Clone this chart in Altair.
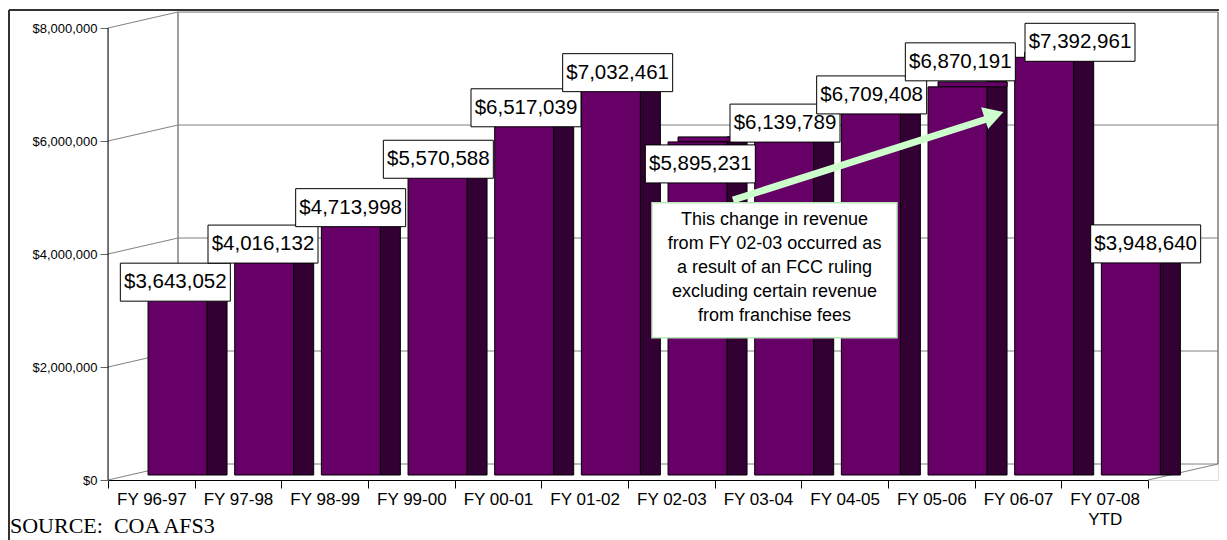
import altair as alt
import pandas as pd

# ---------------- data ----------------
categories = ["FY 96-97", "FY 97-98", "FY 98-99", "FY 99-00", "FY 00-01", "FY 01-02",
              "FY 02-03", "FY 03-04", "FY 04-05", "FY 05-06", "FY 06-07", "FY 07-08 YTD"]
revenue = [3643052, 4016132, 4713998, 5570588, 6517039, 7032461,
           5895231, 6139789, 6709408, 6870191, 7392961, 3948640]
y_ticks = [0, 2000000, 4000000, 6000000, 8000000]
note_lines = ["This change in revenue", "from FY 02-03 occurred as",
              "a result of an FCC ruling", "excluding certain revenue",
              "from franchise fees"]
source_text = "SOURCE:\u00a0\u00a0COA AFS3"

# ---------------- layout / style ----------------
FRONT_W = 1040          # front edge of the floor
DX, DY = 70, 16         # 3-D depth offset
VIEW_W, VIEW_H = FRONT_W + DX, 468
PX_PER_UNIT = 452 / 8_000_000
Y_MAX = VIEW_H / PX_PER_UNIT

GREEN = "#CCFFCC"
PURPLE = "#660066"
DARK = "#330033"
WALL = "#808080"
SANS = "Liberation Sans"

# hand-placed data-label boxes: (dx, dy) pixel nudges from the bar's value point
label_nudge = {
    "FY 96-97": (24, 8), "FY 97-98": (25, -9), "FY 98-99": (26, -6),
    "FY 99-00": (27, -6), "FY 00-01": (28, -4), "FY 01-02": (33, -10),
    "FY 02-03": (29, 17), "FY 03-04": (27, -10), "FY 04-05": (27, -6),
    "FY 05-06": (29, -30), "FY 06-07": (62, -20), "FY 07-08 YTD": (41, -13),
}

df = pd.DataFrame({"cat": categories, "rev": revenue})
df["label"] = ["${:,.0f}".format(v) for v in revenue]
df["label_pos"] = [v - label_nudge[c][1] / PX_PER_UNIT for c, v in zip(categories, revenue)]
ticks_df = pd.DataFrame({"v": y_ticks})
one = pd.DataFrame({"k": [0]})

xs = alt.Scale(domain=categories, range=[0, FRONT_W], paddingInner=0, paddingOuter=0)
ys = alt.Scale(domain=[0, Y_MAX], nice=False, zero=True)

x_axis = alt.Axis(labelFont=SANS, labelFontSize=17, labelColor="#000", labelAngle=0,
                  tickBand="extent", tickSize=8, tickColor="#000", domainColor="#000",
                  labelPadding=3, labelLineHeight=20,
                  labelExpr="datum.label == 'FY 07-08 YTD' ? ['FY 07-08', 'YTD'] : datum.label")
y_axis = alt.Axis(values=y_ticks, format="$,.0f", labelFont=SANS, labelFontSize=13,
                  labelColor="#000", tickSize=8, tickColor="#666", domain=False,
                  grid=False, labelPadding=3)

# ---------------- walls, floor and gridlines ----------------
# white corners outside the 3-D box (above the side wall, right of the floor)
tri_path = "M-1,-{0} L1,-{0} L-1,{0} Z".format(DY / DX)
corner_tl = alt.Chart(one).mark_point(shape=tri_path, size=DX * DX, filled=True,
                                      color="white", opacity=1).encode(
    x=alt.value(DX / 2), y=alt.value(DY / 2))
tri_path2 = "M-1,{0} L1,{0} L1,-{0} Z".format(DY / DX)
corner_br = alt.Chart(one).mark_point(shape=tri_path2, size=DX * DX, filled=True,
                                      color="white", opacity=1).encode(
    x=alt.value(FRONT_W + DX / 2), y=alt.value(VIEW_H - DY / 2))

back_grid = alt.Chart(ticks_df).mark_rule(color=WALL, strokeWidth=1, yOffset=-DY).encode(
    x=alt.value(DX), x2=alt.value(VIEW_W),
    y=alt.Y("v:Q", scale=ys, title=None))
side_grid = alt.Chart(ticks_df).mark_rule(color=WALL, strokeWidth=1, y2Offset=-DY).encode(
    x=alt.value(0), x2=alt.value(DX),
    y=alt.Y("v:Q", scale=ys, title=None), y2="v:Q")
wall_left = alt.Chart(one).mark_rule(color=WALL, strokeWidth=1.5, yOffset=-DY, y2Offset=-DY).encode(
    x=alt.value(DX), y=alt.datum(8000000, scale=ys), y2=alt.datum(0))
wall_right = alt.Chart(one).mark_rule(color=WALL, strokeWidth=1.5, yOffset=-DY, y2Offset=-DY).encode(
    x=alt.value(VIEW_W), y=alt.datum(8000000, scale=ys), y2=alt.datum(0))
floor_right = alt.Chart(one).mark_rule(color=WALL, strokeWidth=1, y2Offset=-DY).encode(
    x=alt.value(FRONT_W), x2=alt.value(VIEW_W), y=alt.datum(0, scale=ys), y2=alt.datum(0))

# ---------------- 3-D bars ----------------
base = alt.Chart(df)
side = base.mark_bar(width=20, xOffset=65.7, color=DARK, stroke="#000", strokeWidth=1,
                     yOffset=-10, y2Offset=-5).encode(
    x=alt.X("cat:N", scale=xs, title=None, axis=x_axis),
    y=alt.Y("rev:Q", scale=ys, title=None, axis=y_axis),
    y2=alt.datum(0))
top = base.mark_bar(width=69, xOffset=41.2, color=PURPLE, stroke="#000", strokeWidth=1,
                    yOffset=-10, y2Offset=-5).encode(
    x=alt.X("cat:N", scale=xs, title=None),
    y=alt.Y("rev:Q", scale=ys, title=None), y2="rev:Q")
front = base.mark_bar(width=59, xOffset=26.2, color=PURPLE, stroke="#000", strokeWidth=1,
                      yOffset=-5, y2Offset=-5).encode(
    x=alt.X("cat:N", scale=xs, title=None),
    y=alt.Y("rev:Q", scale=ys, title=None), y2=alt.datum(0))

labels = []
for c in categories:
    dx = label_nudge[c][0]
    b = base.transform_filter(alt.FieldEqualPredicate(field="cat", equal=c))
    labels.append(b.mark_bar(width=110, xOffset=dx, fill="white", stroke="#000",
                             strokeWidth=1, yOffset=-19, y2Offset=19).encode(
        x=alt.X("cat:N", scale=xs, title=None),
        y=alt.Y("label_pos:Q", scale=ys, title=None), y2="label_pos:Q"))
    labels.append(b.mark_text(xOffset=dx, yOffset=0, font=SANS, fontSize=20.5, color="#000",
                              baseline="middle", align="center").encode(
        x=alt.X("cat:N", scale=xs, title=None),
        y=alt.Y("label_pos:Q", scale=ys, title=None), text="label:N"))

# ---------------- annotation ----------------
arrow = alt.Chart(one).mark_rule(color=GREEN, strokeWidth=7, xOffset=-25, x2Offset=-28).encode(
    x=alt.datum("FY 03-04", scale=xs), x2=alt.datum("FY 06-07"),
    y=alt.datum(4956000, scale=ys), y2=alt.datum(6407000))
arrow_head = alt.Chart(one).mark_point(shape="triangle-right", filled=True, color=GREEN,
                                       opacity=1, size=520, angle=342, xOffset=-24).encode(
    x=alt.datum("FY 06-07", scale=xs), y=alt.datum(6460000, scale=ys))
note_box = alt.Chart(one).mark_bar(width=245, xOffset=16.5, fill="white", stroke="#b8e8b8",
                                   strokeWidth=1.5, yOffset=-67, y2Offset=68).encode(
    x=alt.datum("FY 03-04", scale=xs),
    y=alt.datum(3720000, scale=ys), y2=alt.datum(3720000))
note_text = alt.Chart(one).mark_text(text=note_lines, xOffset=16.5, yOffset=-50, font=SANS,
                                     fontSize=18, lineHeight=24, color="#000",
                                     align="center", baseline="middle").encode(
    x=alt.datum("FY 03-04", scale=xs), y=alt.datum(3720000, scale=ys))

# ---------------- frame, axis line, source ----------------
y_line = alt.Chart(one).mark_rule(color="#000", strokeWidth=1).encode(
    x=alt.value(0), y=alt.datum(0, scale=ys), y2=alt.datum(8000000))
frame_left = alt.Chart(one).mark_rule(color="#333", strokeWidth=2).encode(
    x=alt.value(-99), y=alt.value(-2), y2=alt.value(540))
frame_top = alt.Chart(one).mark_rule(color="#333", strokeWidth=2).encode(
    x=alt.value(-99), x2=alt.value(VIEW_W + 20), y=alt.value(-2))
source = alt.Chart(one).mark_text(text=source_text, align="left", baseline="alphabetic",
                                  font="Liberation Serif", fontSize=22, color="#000").encode(
    x=alt.value(-98), y=alt.value(521))

chart = alt.layer(
    corner_tl, corner_br,
    back_grid, side_grid, wall_left, wall_right, floor_right,
    side, top, front, *labels,
    arrow, arrow_head, note_box, note_text,
    y_line, frame_left, frame_top, source,
).properties(
    width=VIEW_W, height=VIEW_H, autosize="none",
    padding={"left": 100, "top": 4, "right": 1, "bottom": 60},
).configure_view(fill=GREEN, stroke=None).configure(background="white")

chart.save("out.html", embed_options={"renderer": "svg", "actions": False})
